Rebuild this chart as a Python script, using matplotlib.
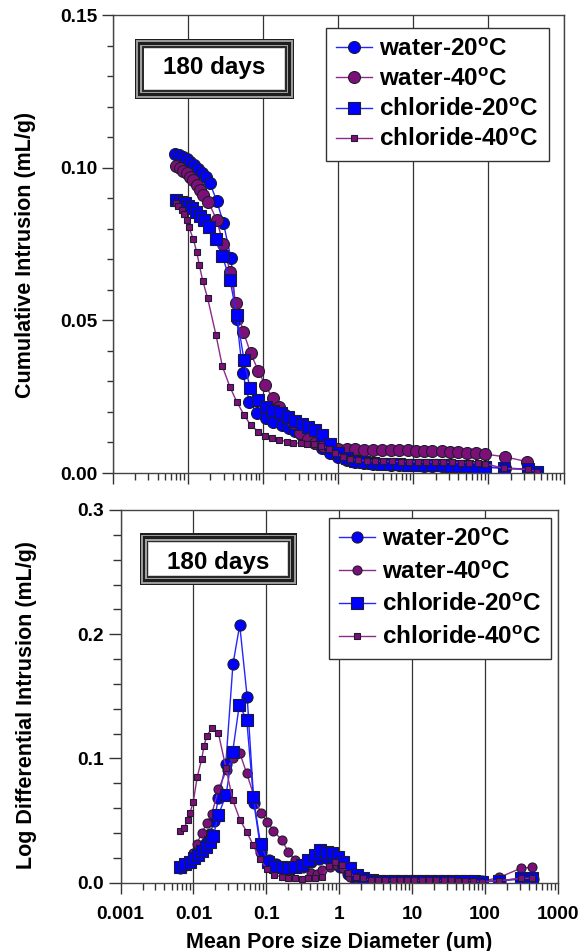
import matplotlib
matplotlib.use('Agg')
import matplotlib.pyplot as plt
from matplotlib.patches import Rectangle
from matplotlib.ticker import FixedLocator, LogLocator, NullFormatter, MultipleLocator

plt.rcParams['font.family'] = ['Liberation Sans', 'DejaVu Sans']
plt.rcParams['font.weight'] = 'bold'
plt.rcParams['mathtext.fontset'] = 'custom'
plt.rcParams['mathtext.rm'] = 'Liberation Sans:bold'
plt.rcParams['mathtext.bf'] = 'Liberation Sans:bold'
plt.rcParams['mathtext.it'] = 'Liberation Sans:bold'

# ---------------- data ----------------
series_labels = ['water-20$^{\\mathrm{o}}$C', 'water-40$^{\\mathrm{o}}$C',
                 'chloride-20$^{\\mathrm{o}}$C', 'chloride-40$^{\\mathrm{o}}$C']
box_text = '180 days'
x_tick_values = [0.001, 0.01, 0.1, 1, 10, 100, 1000]
x_tick_labels = ['0.001', '0.01', '0.1', '1', '10', '100', '1000']
top_y_ticks = [0.00, 0.05, 0.10, 0.15]
top_y_labels = ['0.00', '0.05', '0.10', '0.15']
bot_y_ticks = [0.0, 0.1, 0.2, 0.3]
bot_y_labels = ['0.0', '0.1', '0.2', '0.3']
xlabel = 'Mean Pore size Diameter (um)'
top_ylabel = 'Cumulative Intrusion (mL/g)'
bot_ylabel = 'Log Differential Intrusion (mL/g)'

# Top panel: cumulative intrusion
w20_top_d = [0.00678, 0.00769, 0.00861, 0.00966, 0.01084, 0.01216, 0.01362, 0.01563, 0.01754, 0.0198,
             0.0243, 0.0298, 0.0377, 0.0449, 0.0540, 0.0661, 0.0841, 0.110, 0.138, 0.178, 0.22, 0.27,
             0.33, 0.40, 0.50, 0.62, 0.78, 1.0, 1.3, 1.7, 2.2, 2.9, 3.8, 5.0, 6.5, 8.5, 11, 14, 18, 24,
             31, 40, 52, 68, 90, 166, 333, 448]
w20_top_v = [0.1044, 0.1041, 0.1036, 0.1028, 0.1019, 0.1009, 0.0997, 0.0984, 0.0970, 0.0949,
             0.0892, 0.0820, 0.0703, 0.0505, 0.0327, 0.0234, 0.0196, 0.0179, 0.0168, 0.0157, 0.0147,
             0.0137, 0.0125, 0.0112, 0.0097, 0.0082, 0.0066, 0.0052, 0.0043, 0.0037, 0.0033, 0.0030,
             0.0028, 0.0027, 0.0026, 0.0025, 0.0025, 0.0024, 0.0024, 0.0023, 0.0023, 0.0022, 0.0022,
             0.0021, 0.0020, 0.0017, 0.0012, 0.0004]

w40_top_d = [0.00693, 0.0079, 0.00874, 0.0097, 0.01074, 0.01189, 0.01318, 0.01459, 0.01614, 0.0188,
             0.0243, 0.0298, 0.0366, 0.0436, 0.0550, 0.0689, 0.0871, 0.107, 0.135, 0.165, 0.20, 0.25,
             0.31, 0.40, 0.50, 0.63, 0.80, 1.0, 1.3, 1.7, 2.2, 2.9, 3.8, 5.0, 6.5, 8.5, 11, 14, 18, 24,
             31, 40, 52, 68, 90, 166, 331]
w40_top_v = [0.1005, 0.0998, 0.0990, 0.0981, 0.0970, 0.0960, 0.0943, 0.0927, 0.0910, 0.0889,
             0.0829, 0.0750, 0.0659, 0.0556, 0.0463, 0.0392, 0.0335, 0.0288, 0.0245, 0.0215, 0.0190,
             0.0165, 0.0130, 0.0110, 0.0098, 0.0090, 0.0084, 0.0080, 0.0078, 0.0077, 0.0076, 0.0076,
             0.0075, 0.0075, 0.0074, 0.0074, 0.0073, 0.0073, 0.0072, 0.0071, 0.0070, 0.0069, 0.0067,
             0.0065, 0.0062, 0.0053, 0.0037]

c20_top_d = [0.00693, 0.00815, 0.0092, 0.0102, 0.01153, 0.0128, 0.01459, 0.01663, 0.01923, 0.0236,
             0.0289, 0.0366, 0.0449, 0.0562, 0.0675, 0.0871, 0.110, 0.138, 0.173, 0.218, 0.268, 0.329,
             0.403, 0.494, 0.62, 0.78, 1.0, 1.3, 1.7, 2.2, 2.9, 3.8, 5.0, 6.5, 8.5, 11, 14, 18, 24, 31,
             40, 52, 68, 90, 161, 333, 448]
c20_top_v = [0.0894, 0.0889, 0.0883, 0.0874, 0.0867, 0.0856, 0.0842, 0.0829, 0.0807, 0.0765,
             0.0711, 0.0632, 0.0517, 0.0370, 0.0277, 0.0239, 0.0215, 0.0204, 0.0196, 0.0182, 0.0171,
             0.0160, 0.0152, 0.0141, 0.0125, 0.0095, 0.0065, 0.0048, 0.0040, 0.0035, 0.0032, 0.0030,
             0.0029, 0.0028, 0.0027, 0.0026, 0.0026, 0.0025, 0.0025, 0.0024, 0.0023, 0.0022, 0.0021,
             0.0019, 0.0015, 0.0012, 0.0004]

c40_top_d = [0.00693, 0.0075, 0.00832, 0.00902, 0.0097, 0.01042, 0.01189, 0.01318, 0.01429, 0.01585,
             0.01845, 0.0238, 0.0289, 0.0366, 0.0449, 0.0562, 0.0689, 0.0871, 0.107, 0.131, 0.166,
             0.207, 0.254, 0.319, 0.391, 0.480, 0.60, 0.75, 0.92, 1.15, 1.45, 1.85, 2.4, 3.1, 4.0, 5.2,
             6.8, 8.8, 11.5, 15, 19.5, 25, 33, 43, 56, 72, 90, 161, 333, 448]
c40_top_v = [0.0885, 0.0875, 0.0861, 0.0848, 0.0829, 0.0805, 0.0765, 0.0725, 0.0681, 0.0630,
             0.0572, 0.0452, 0.0350, 0.0281, 0.0234, 0.0190, 0.0157, 0.0135, 0.0121, 0.0114, 0.0108,
             0.0103, 0.0099, 0.0097, 0.0095, 0.0095, 0.0090, 0.0080, 0.0066, 0.0053, 0.0046, 0.0042,
             0.0040, 0.0039, 0.0038, 0.0038, 0.0037, 0.0037, 0.0037, 0.0036, 0.0036, 0.0035, 0.0035,
             0.0034, 0.0034, 0.0033, 0.0031, 0.0015, 0.0012, 0.0004]

# Bottom panel: log differential intrusion
w20_bot_d = [0.00653, 0.00764, 0.00895, 0.01026, 0.01164, 0.01294, 0.01469, 0.01683, 0.01923, 0.02193,
             0.02773, 0.03475, 0.04305, 0.05445, 0.06745, 0.08433, 0.1081, 0.135, 0.17, 0.21, 0.26,
             0.33, 0.41, 0.52, 0.65, 0.82, 1.03, 1.3, 1.65, 2.1, 2.7, 3.5, 4.5, 6, 8, 11, 15, 20, 27,
             36, 48, 65, 90, 160, 330, 450]
w20_bot_v = [0.0115, 0.0140, 0.0165, 0.0196, 0.0230, 0.0270, 0.0320, 0.0390, 0.0500, 0.0679,
             0.0955, 0.1757, 0.2074, 0.1497, 0.0639, 0.0250, 0.0182, 0.0150, 0.0130, 0.0120, 0.0125,
             0.0140, 0.0165, 0.0190, 0.0200, 0.0180, 0.0130, 0.0070, 0.0030, 0.0018, 0.0015, 0.0013,
             0.0012, 0.0011, 0.0010, 0.0010, 0.0010, 0.0010, 0.0010, 0.0010, 0.0010, 0.0010, 0.0010,
             0.0015, 0.0030, 0.0030]

w40_bot_d = [0.00653, 0.00807, 0.00975, 0.01107, 0.01294, 0.01517, 0.01778, 0.02198, 0.02844, 0.03475,
             0.04305, 0.0537, 0.06745, 0.08356, 0.1030, 0.1245, 0.1622, 0.1995, 0.2466, 0.3214, 0.4074,
             0.501, 0.5808, 0.7345, 0.9311, 1.112, 1.409, 1.778, 2.239, 3, 4, 5.5, 7.5, 10, 14, 19, 26,
             35, 48, 65, 90, 157, 308, 436]
w40_bot_v = [0.0129, 0.0169, 0.0237, 0.0312, 0.0398, 0.0478, 0.0551, 0.0752, 0.0907, 0.1000,
             0.1046, 0.0880, 0.0700, 0.0563, 0.0491, 0.0419, 0.0344, 0.0250, 0.0183, 0.0115, 0.0075,
             0.0068, 0.0102, 0.0129, 0.0142, 0.0115, 0.0048, 0.0020, 0.0015, 0.0012, 0.0011, 0.0010,
             0.0010, 0.0010, 0.0010, 0.0010, 0.0010, 0.0010, 0.0010, 0.0010, 0.0010, 0.0043, 0.0116,
             0.0124]

c20_bot_d = [0.00653, 0.00764, 0.00895, 0.01026, 0.01164, 0.01294, 0.01469, 0.01683, 0.01871, 0.02198,
             0.02793, 0.03451, 0.04246, 0.0537, 0.06622, 0.08318, 0.1059, 0.1309, 0.1618, 0.1995,
             0.2466, 0.3048, 0.3758, 0.4645, 0.5483, 0.6714, 0.787, 0.9705, 1.138, 1.403, 1.734, 2.138,
             2.786, 3.55, 4.47, 5.62, 7.08, 8.91, 11.2, 14.1, 17.8, 22.4, 28.2, 35.5, 44.7, 56.2, 70.8,
             89.8, 157, 308, 436]
c20_bot_v = [0.0129, 0.0150, 0.0169, 0.0196, 0.0223, 0.0255, 0.0290, 0.0330, 0.0376, 0.0545,
             0.0706, 0.1055, 0.1430, 0.1310, 0.0692, 0.0310, 0.0169, 0.0129, 0.0124, 0.0116, 0.0124,
             0.0142, 0.0183, 0.0223, 0.0263, 0.0250, 0.0237, 0.0209, 0.0169, 0.0116, 0.0062, 0.0035,
             0.0022, 0.0015, 0.0014, 0.0014, 0.0014, 0.0013, 0.0013, 0.0013, 0.0013, 0.0012, 0.0012,
             0.0012, 0.0011, 0.0011, 0.0010, 0.0008, 0.0016, 0.0035, 0.0035]

c40_bot_d = [0.00653, 0.00741, 0.00832, 0.00895, 0.00993, 0.01127, 0.01294, 0.01393, 0.01517, 0.01778,
             0.02198, 0.02793, 0.03451, 0.04345, 0.0537, 0.06622, 0.08185, 0.1030, 0.1274, 0.1622,
             0.1995, 0.2466, 0.3048, 0.3758, 0.4645, 0.5728, 0.7295, 0.873, 1.076, 1.327, 1.694, 2.138,
             2.69, 3.39, 4.27, 5.37, 6.76, 8.51, 10.7, 13.5, 17.0, 21.4, 26.9, 33.9, 42.7, 53.7, 67.6,
             89.8, 157, 308, 436]
c40_bot_v = [0.0419, 0.0438, 0.0505, 0.0563, 0.0652, 0.0853, 0.0993, 0.1100, 0.1180, 0.1243,
             0.1202, 0.0921, 0.0666, 0.0505, 0.0410, 0.0300, 0.0188, 0.0108, 0.0062, 0.0048, 0.0035,
             0.0035, 0.0030, 0.0035, 0.0035, 0.0048, 0.0134, 0.0169, 0.0142, 0.0075, 0.0048, 0.0035,
             0.0022, 0.0021, 0.0021, 0.0020, 0.0020, 0.0020, 0.0019, 0.0019, 0.0019, 0.0018, 0.0018,
             0.0018, 0.0017, 0.0017, 0.0016, 0.0008, 0.0016, 0.0035, 0.0035]

# ---------------- styling ----------------
BLUE = '#0000ff'
BLUE_LINE = '#2525ff'
PURPLE = '#7d1078'
PURPLE_LINE = '#8e2a8c'
EDGE = '#1c1c2c'

W, H = 587, 951
fig = plt.figure(figsize=(W / 100, H / 100), dpi=100)

def px_axes(l, r, t, b):
    return fig.add_axes([l / W, (H - b) / H, (r - l) / W, (b - t) / H])

ax1 = px_axes(112.5, 563.5, 15, 473)
ax2 = px_axes(120.6, 558.0, 510, 882.7)

top_series = [
    (w20_top_d, w20_top_v, 'o', 8.6, BLUE, BLUE_LINE),
    (w40_top_d, w40_top_v, 'o', 8.6, PURPLE, PURPLE_LINE),
    (c20_top_d, c20_top_v, 's', 8.0, BLUE, BLUE_LINE),
    (c40_top_d, c40_top_v, 's', 4.5, PURPLE, PURPLE_LINE),
]
bot_series = [
    (w20_bot_d, w20_bot_v, 'o', 8.0, BLUE, BLUE_LINE),
    (w40_bot_d, w40_bot_v, 'o', 6.5, PURPLE, PURPLE_LINE),
    (c20_bot_d, c20_bot_v, 's', 8.0, BLUE, BLUE_LINE),
    (c40_bot_d, c40_bot_v, 's', 4.5, PURPLE, PURPLE_LINE),
]

def style_axes(ax, ymax, yticks, ylabels, ymin_step, show_xlabels, ymaj_len, ymin_len):
    ax.set_xscale('log')
    ax.set_xlim(1e-3, 1e3)
    ax.set_ylim(0, ymax)
    ax.xaxis.set_major_locator(FixedLocator(x_tick_values))
    ax.xaxis.set_minor_locator(LogLocator(base=10, subs=range(2, 10), numticks=30))
    ax.xaxis.set_minor_formatter(NullFormatter())
    if show_xlabels:
        ax.set_xticklabels(x_tick_labels)
    else:
        ax.set_xticklabels([])
    ax.yaxis.set_major_locator(FixedLocator(yticks))
    ax.set_yticklabels(ylabels)
    ax.yaxis.set_minor_locator(MultipleLocator(ymin_step))
    ax.tick_params(axis='x', which='major', direction='out', length=8, width=1,
                   pad=9, labelsize=13.8, color='#333')
    ax.tick_params(axis='x', which='minor', direction='out', length=5, width=1, color='#333')
    ax.tick_params(axis='y', which='major', direction='out', length=ymaj_len, width=1,
                   pad=3, labelsize=13.8, color='#333')
    ax.tick_params(axis='y', which='minor', direction='out', length=ymin_len, width=1, color='#333')
    for lab in ax.get_xticklabels() + ax.get_yticklabels():
        lab.set_fontweight('bold')
    ax.xaxis.grid(True, which='major', color='#333333', lw=0.9)
    ax.set_axisbelow(True)
    for sp in ax.spines.values():
        sp.set_color('#444444')
        sp.set_linewidth(1.0)

def draw_series(ax, series):
    handles = []
    for (d, v, mk, ms, fc, lc), lab in zip(series, series_labels):
        h, = ax.plot(d, v, color=lc, lw=1.0, marker=mk, markersize=ms,
                     markerfacecolor=fc, markeredgecolor=EDGE, markeredgewidth=0.8,
                     label=lab)
        handles.append(h)
    return handles

style_axes(ax1, 0.15, top_y_ticks, top_y_labels, 0.01, False, 8, 4)
style_axes(ax2, 0.3, bot_y_ticks, bot_y_labels, 0.02, True, 9, 6)
draw_series(ax1, top_series)
draw_series(ax2, bot_series)

ax1.set_ylabel(top_ylabel, fontsize=15.5, fontweight='bold')
ax1.yaxis.set_label_coords(-0.1705, 0.476)
ax2.set_ylabel(bot_ylabel, fontsize=15.5, fontweight='bold')
ax2.yaxis.set_label_coords(-0.190, 0.477)
ax2.set_xlabel(xlabel, fontsize=15.5, fontweight='bold')
ax2.xaxis.set_label_coords(0.5, -0.1315)

def make_legend(ax, anchor, spacing):
    leg = ax.legend(loc='upper right', bbox_to_anchor=anchor, borderaxespad=0,
                    fontsize=17.5, frameon=True, fancybox=False, edgecolor='#333333',
                    framealpha=1, handlelength=1.5, handletextpad=0.3,
                    labelspacing=spacing, borderpad=0.4)
    leg.get_frame().set_linewidth(1.0)
    for t in leg.get_texts():
        t.set_fontweight('bold')
    leg.set_zorder(20)
    return leg

make_legend(ax1, (0.967, 0.972), 0.30)
make_legend(ax2, (0.985, 0.978), 0.40)

def framed_box(x0, y0, x1, y1, text, tx, ty):
    layers = [(0.0, '#1e1e1e'), (1.3, '#9a9a9a'), (3.2, '#1e1e1e'), (5.6, '#a0a0a0'),
              (7.4, '#2a2a2a'), (8.8, '#d0d0d0'), (9.6, '#ffffff')]
    for inset, col in layers:
        fig.patches.append(Rectangle(((x0 + inset) / W, (H - (y1 - inset)) / H),
                                     (x1 - x0 - 2 * inset) / W, (y1 - y0 - 2 * inset) / H,
                                     transform=fig.transFigure, facecolor=col,
                                     edgecolor='none', zorder=10))
    fig.text(tx / W, (H - ty) / H, text, ha='center', va='baseline', fontsize=17.5,
             fontweight='bold', zorder=11)

framed_box(134.8, 39, 294.0, 99, box_text, 214.4, 74.0)
framed_box(139.7, 533.3, 297.0, 585, box_text, 218.0, 569.0)

fig.savefig('out.png', dpi=100)
